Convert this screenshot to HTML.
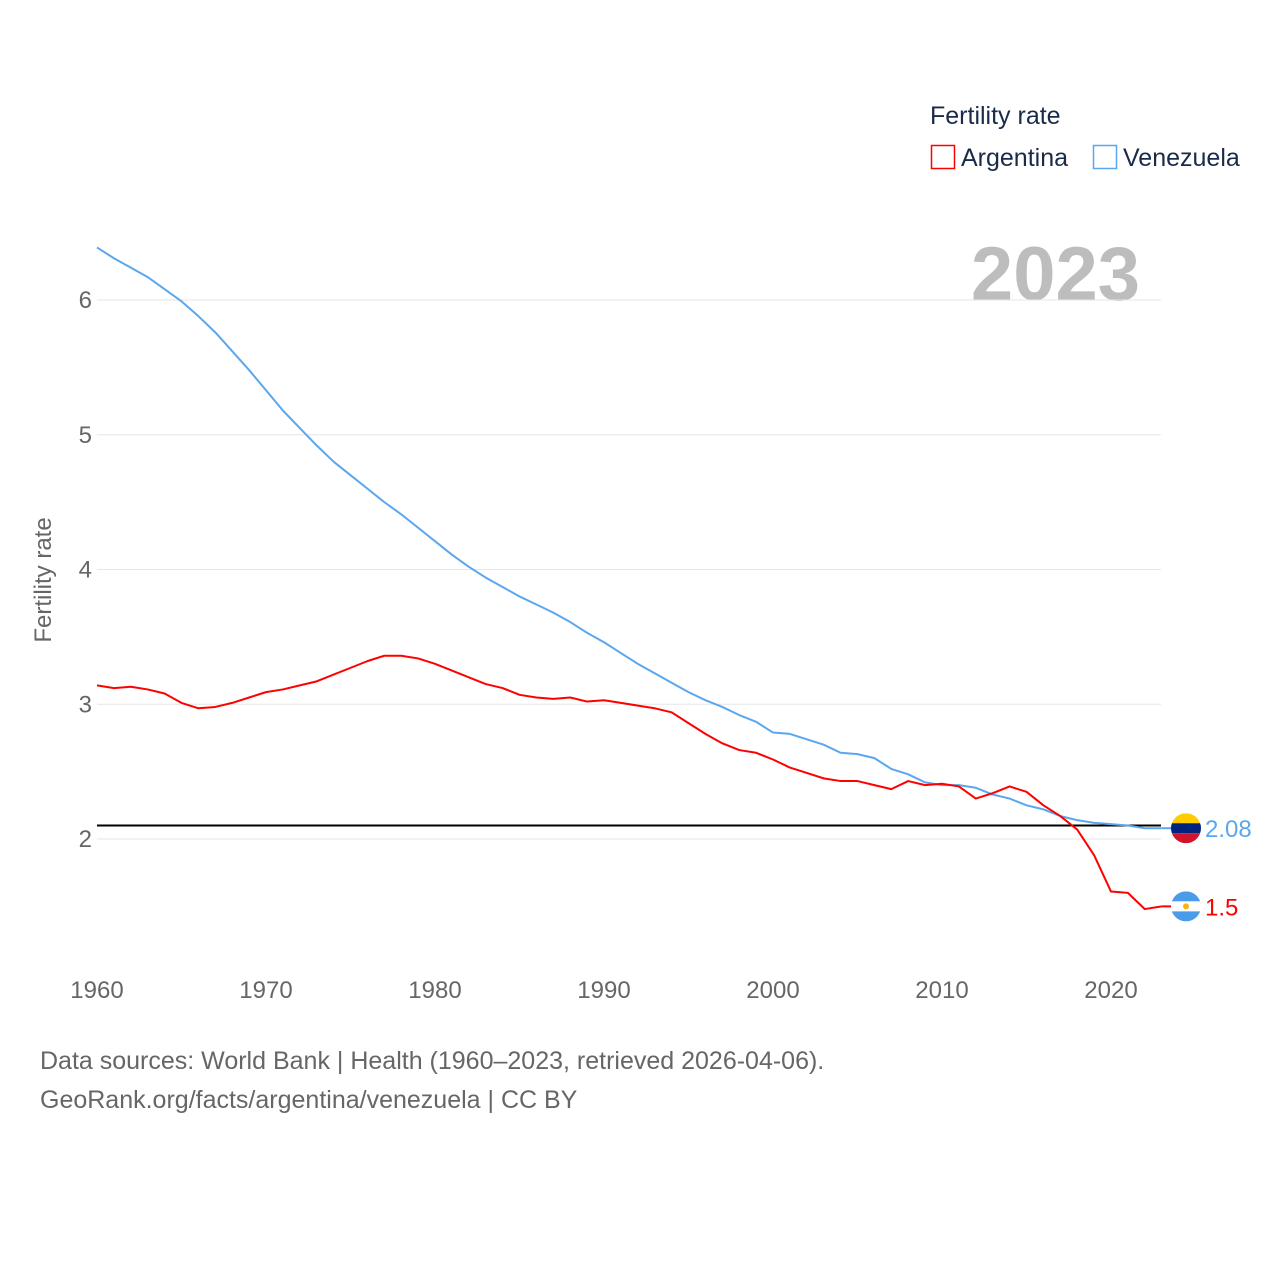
<!DOCTYPE html>
<html><head><meta charset="utf-8"><style>
body{margin:0;background:#fff;}
svg text{font-family:"Liberation Sans",sans-serif;}
</style></head><body>
<svg id="chart" width="1280" height="1280" viewBox="0 0 1280 1280" xmlns="http://www.w3.org/2000/svg">
<g>
<text x="930" y="124" font-size="25" fill="#1a2b4a">Fertility rate</text>
<rect x="931.5" y="145.5" width="23" height="23" fill="none" stroke="#ff0000" stroke-width="1.5"/>
<text x="961" y="166" font-size="25" fill="#1a2b4a">Argentina</text>
<rect x="1093.5" y="145.5" width="23" height="23" fill="none" stroke="#5aa7ee" stroke-width="1.5"/>
<text x="1123" y="166" font-size="25" fill="#1a2b4a">Venezuela</text>
</g>
<text x="1140" y="300" font-size="76" font-weight="bold" fill="#bdbdbd" text-anchor="end">2023</text>
<g id="grid"></g>
<g id="yticks"></g>
<g id="xticks"></g>
<text transform="translate(51,580) rotate(-90)" font-size="24" fill="#666" text-anchor="middle">Fertility rate</text>
<g id="series"></g>
<text x="40" y="1069" font-size="25" fill="#666">Data sources: World Bank | Health (1960–2023, retrieved 2026-04-06).</text>
<text x="40" y="1108" font-size="25" fill="#666">GeoRank.org/facts/argentina/venezuela | CC BY</text>
</svg>
<script>
const years=[];for(let y=1960;y<=2023;y++)years.push(y);
const venezuela=[6.39,6.31,6.24,6.17,6.08,5.99,5.88,5.76,5.62,5.48,5.33,5.18,5.05,4.92,4.80,4.70,4.60,4.50,4.41,4.31,4.21,4.11,4.02,3.94,3.87,3.80,3.74,3.68,3.61,3.53,3.46,3.38,3.30,3.23,3.16,3.09,3.03,2.98,2.92,2.87,2.79,2.78,2.74,2.70,2.64,2.63,2.60,2.52,2.48,2.42,2.40,2.40,2.38,2.33,2.30,2.25,2.22,2.17,2.14,2.12,2.11,2.10,2.08,2.08];
const argentina=[3.14,3.12,3.13,3.11,3.08,3.01,2.97,2.98,3.01,3.05,3.09,3.11,3.14,3.17,3.22,3.27,3.32,3.36,3.36,3.34,3.30,3.25,3.20,3.15,3.12,3.07,3.05,3.04,3.05,3.02,3.03,3.01,2.99,2.97,2.94,2.86,2.78,2.71,2.66,2.64,2.59,2.53,2.49,2.45,2.43,2.43,2.40,2.37,2.43,2.40,2.41,2.39,2.30,2.34,2.39,2.35,2.25,2.17,2.07,1.88,1.61,1.60,1.48,1.50];
const yTicks=[2,3,4,5,6];
const xTicks=[1960,1970,1980,1990,2000,2010,2020];
const replacement=2.1;
const NS="http://www.w3.org/2000/svg";
const X=y=>97+(y-1960)*(1111-97)/60;
const Y=v=>839-(v-2)*134.75;
function mk(t,a,p){const e=document.createElementNS(NS,t);for(const k in a)e.setAttribute(k,a[k]);p.appendChild(e);return e;}
const grid=document.getElementById('grid'),yt=document.getElementById('yticks'),xt=document.getElementById('xticks'),ser=document.getElementById('series');
yTicks.forEach(v=>{
 const l=mk('line',{x1:97,x2:1161,y1:Y(v),y2:Y(v),stroke:'#e6e6e6','stroke-width':1},grid);
 
 
 const t=mk('text',{x:92,y:Y(v)+8,'font-size':24,fill:'#666','text-anchor':'end'},yt);t.textContent=v;
 
 
});
xTicks.forEach(v=>{
 const t=mk('text',{x:X(v),y:998,'font-size':24,fill:'#666','text-anchor':'middle'},xt);t.textContent=v;
 
 
});
const rl=mk('line',{x1:97,x2:1161,y1:Y(replacement),y2:Y(replacement),stroke:'#000','stroke-width':2},ser);


function line(data,color,name){
 const p=mk('polyline',{points:data.map((v,i)=>X(years[i])+','+Y(v)).join(' '),fill:'none',stroke:color,'stroke-width':2,'stroke-linejoin':'round'},ser);
 
 
}
line(venezuela,'#5aa7ee','venezuela-line');
line(argentina,'#ff0000','argentina-line');
function endMark(data,color,name,kind){
 const v=data[data.length-1],x=X(years[years.length-1]),y=Y(v);
 const g=mk('g',{},ser);
 
 
 mk('line',{x1:x,x2:1172,y1:y,y2:y,stroke:color,'stroke-width':2},g);
 const cx=1186,r=15;
 const cp=mk('clipPath',{id:'c'+name},g);mk('circle',{cx:cx,cy:y,r:r},cp);
 const f=mk('g',{'clip-path':'url(#c'+name+')'},g);
 if(kind==='ve'){
  mk('rect',{x:cx-r,y:y-r,width:30,height:10,fill:'#ffcc00'},f);
  mk('rect',{x:cx-r,y:y-5,width:30,height:10,fill:'#00247d'},f);
  mk('rect',{x:cx-r,y:y+5,width:30,height:10,fill:'#cf142b'},f);
 }else{
  mk('rect',{x:cx-r,y:y-r,width:30,height:10,fill:'#4a9be8'},f);
  mk('rect',{x:cx-r,y:y-5,width:30,height:10,fill:'#fff'},f);
  mk('rect',{x:cx-r,y:y+5,width:30,height:10,fill:'#4a9be8'},f);
  mk('circle',{cx:cx,cy:y,r:3,fill:'#f6b40e'},f);
 }
 const t=mk('text',{x:1205,y:y+9,'font-size':24,fill:color},g);t.textContent=v;
}
endMark(venezuela,'#5aa7ee','venezuela','ve');
endMark(argentina,'#ff0000','argentina','ar');
</script>
</body></html>
